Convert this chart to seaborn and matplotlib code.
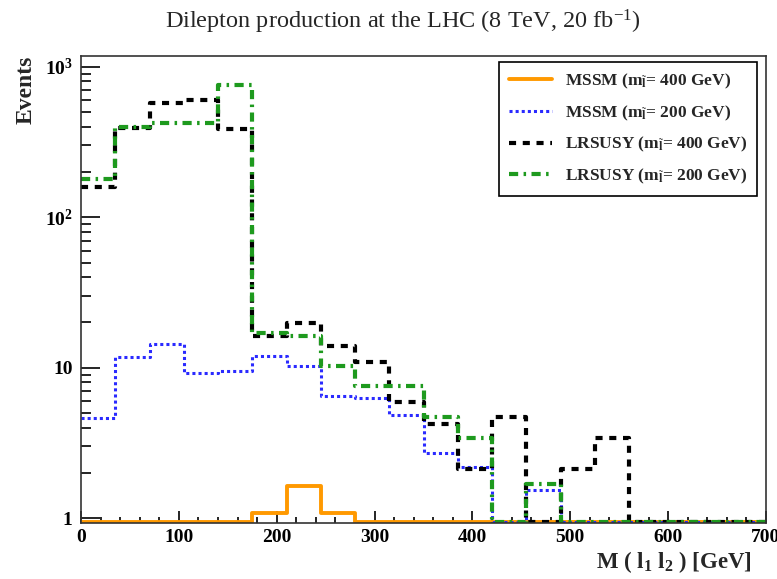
import numpy as np
import pandas as pd
import seaborn as sns
import matplotlib.pyplot as plt
from matplotlib.lines import Line2D
from matplotlib.ticker import FixedLocator, FixedFormatter, LogLocator, MultipleLocator

# bins of 35 GeV from 0 to 700
bin_edges = list(range(0, 701, 35))

mssm_400 = [0, 0, 0, 0, 0, 1.09, 1.64, 1.09, 0, 0, 0, 0, 0, 0, 0, 0, 0, 0, 0, 0]
mssm_200 = [4.62, 11.8, 14.4, 9.3, 9.55, 11.9, 10.3, 6.5, 6.3, 4.86, 2.72, 2.18, 0, 1.55, 0, 0, 0, 0, 0, 0]
lrsusy_400 = [158, 390, 575, 605, 386, 16.2, 19.9, 13.9, 11.0, 5.96, 4.23, 2.12, 4.69, 0, 2.11, 3.40, 0, 0, 0, 0]
lrsusy_200 = [179, 400, 423, 423, 759, 17.0, 16.2, 10.2, 7.62, 7.62, 4.69, 3.40, 0, 1.70, 0, 0, 0, 0, 0, 0]

labels = [r'MSSM (m$_{\tilde{\mathbf{l}}}$= 400 GeV)',
          r'MSSM (m$_{\tilde{\mathbf{l}}}$= 200 GeV)',
          r'LRSUSY (m$_{\tilde{\mathbf{l}}}$= 400 GeV)',
          r'LRSUSY (m$_{\tilde{\mathbf{l}}}$= 200 GeV)']

sns.set_style('ticks')
plt.rcParams['font.family'] = ['Liberation Serif', 'DejaVu Serif']
plt.rcParams['mathtext.fontset'] = 'custom'
plt.rcParams['mathtext.rm'] = 'Liberation Serif'
plt.rcParams['mathtext.it'] = 'Liberation Serif:italic'
plt.rcParams['mathtext.bf'] = 'Liberation Serif:bold'

ymin, ymax = 0.93, 1180

fig = plt.figure(figsize=(7.77, 5.79), dpi=100)
ax = fig.add_axes([81 / 777, 1 - 523 / 579, (766 - 81) / 777, (523 - 56) / 579])

edges = np.array(bin_edges, dtype=float)
centers = (edges[:-1] + edges[1:]) / 2
series = [
    (mssm_400, '#ff9900', '-', 2.8),
    (mssm_200, '#2a2aff', (0, (1, 1)), 2.2),
    (lrsusy_400, 'black', (0, (1.7, 1.6)), 3.0),
    (lrsusy_200, '#1e9a1e', (0, (2.2, 1.3, 0.6, 1.3)), 3.0),
]
handles = []
for (vals, col, ls, lw), lab in zip(series, labels):
    # empty bins sit on the bottom of the frame, as in ROOT
    df = pd.DataFrame({'x': centers, 'w': np.clip(vals, ymin * 1.02, None)})
    sns.histplot(data=df, x='x', weights='w', bins=bin_edges, element='step',
                 fill=False, color=col, linestyle=ls, linewidth=lw, ax=ax)
    handles.append(Line2D([], [], color=col, linestyle=ls, linewidth=lw, label=lab))

ax.set_yscale('log')
ax.set_xlim(0, 700)
ax.set_ylim(ymin, ymax)

ax.xaxis.set_major_locator(MultipleLocator(100))
ax.xaxis.set_minor_locator(MultipleLocator(20))
ax.yaxis.set_major_locator(FixedLocator([1, 10, 100, 1000]))
ax.yaxis.set_major_formatter(FixedFormatter(['1', '10', r'$\mathbf{10^{2}}$', r'$\mathbf{10^{3}}$']))
ax.yaxis.set_minor_locator(LogLocator(base=10, subs=np.arange(2, 10)))
ax.yaxis.set_minor_formatter(FixedFormatter([]))

ax.tick_params(axis='both', which='both', direction='in', colors='black', width=1.2)
ax.tick_params(axis='y', which='major', length=14, pad=6)
ax.tick_params(axis='y', which='minor', length=7)
ax.tick_params(axis='x', which='major', length=9, pad=4)
ax.tick_params(axis='x', which='minor', length=4.5)
for lab in ax.get_xticklabels() + ax.get_yticklabels():
    lab.set_fontweight('bold')
    lab.set_fontsize(14)
for sp in ax.spines.values():
    sp.set_linewidth(1.2)
    sp.set_color('#333333')

ax.set_xlabel(r'M ( l$_\mathbf{1}$ l$_\mathbf{2}$ ) [GeV]', fontsize=16.5,
              fontweight='bold', labelpad=2)
ax.xaxis.set_label_coords((752 - 81) / 685, -0.055)
ax.xaxis.label.set_horizontalalignment('right')
ax.set_ylabel('Events', loc='top', fontsize=17, fontweight='bold', labelpad=6)

leg = ax.legend(handles=handles, loc='upper right', bbox_to_anchor=(0.987, 0.987),
                borderaxespad=0,
                prop={'family': 'Liberation Serif', 'weight': 'bold', 'size': 12.5},
                frameon=True, fancybox=False, edgecolor='black', framealpha=1,
                handlelength=2.5, labelspacing=0.72, borderpad=0.55, handletextpad=0.75)
leg.get_frame().set_linewidth(1.2)

fig.text(403 / 777, 1 - 22 / 579, r'Dilepton production at the LHC (8 TeV, 20 fb$^{-1}$)',
         ha='center', va='center', fontsize=17.5)

fig.savefig('out.png', dpi=100)
